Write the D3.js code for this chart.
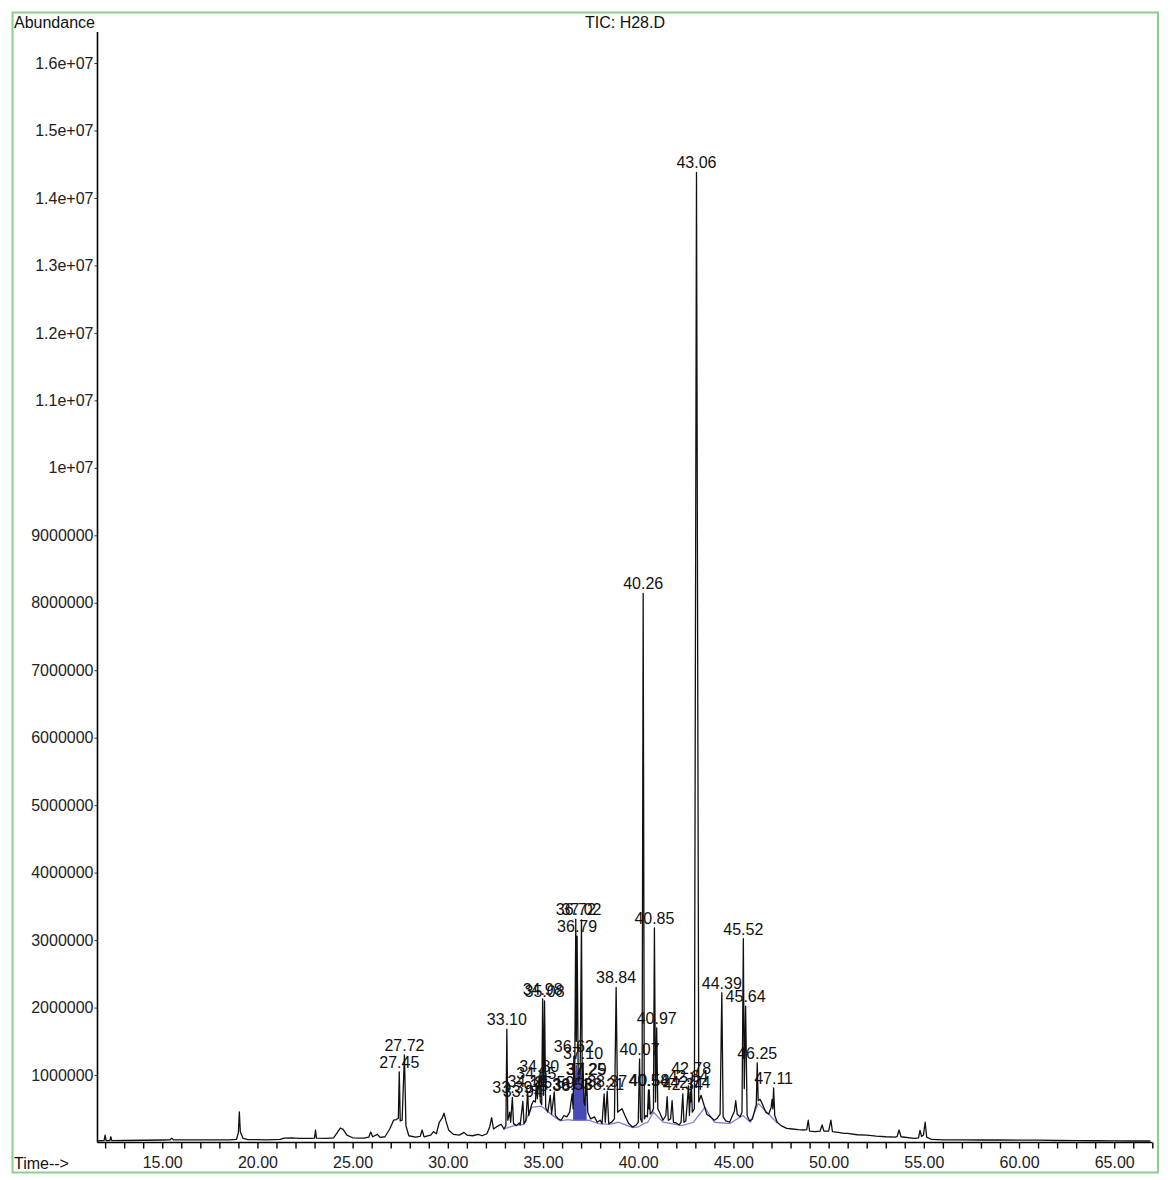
<!DOCTYPE html>
<html>
<head>
<meta charset="utf-8">
<script src="https://cdn.jsdelivr.net/npm/d3@7"></script>
<style>
  html, body { margin: 0; padding: 0; background: #ffffff; }
  svg { display: block; }
  text { font-family: "Liberation Sans", Arial, sans-serif; }
</style>
</head>
<body>
<script>
// ---------- data ----------
const chartTitle = "TIC: H28.D";
const yAxisTitle = "Abundance";
const xAxisTitle = "Time-->";

const yTickValues = [1e6, 2e6, 3e6, 4e6, 5e6, 6e6, 7e6, 8e6, 9e6, 1e7, 1.1e7, 1.2e7, 1.3e7, 1.4e7, 1.5e7, 1.6e7];
const yTickLabels = ["1000000", "2000000", "3000000", "4000000", "5000000", "6000000", "7000000", "8000000", "9000000",
                     "1e+07", "1.1e+07", "1.2e+07", "1.3e+07", "1.4e+07", "1.5e+07", "1.6e+07"];
const xMinorTicks = d3.range(12, 68, 1);
const xTickValues = [15, 20, 25, 30, 35, 40, 45, 50, 55, 60, 65];
const xTickLabels = ["15.00", "20.00", "25.00", "30.00", "35.00", "40.00", "45.00", "50.00", "55.00", "60.00", "65.00"];

// total ion chromatogram: [retention time (min), abundance]
const traceTime = [
  11.6, 11.95, 12.0, 12.05, 12.25, 12.3, 12.35, 13.0, 14.0, 15.0, 15.4, 15.5, 15.6, 16.5, 17.5, 18.5, 18.9,
  19.0, 19.05, 19.1, 19.25, 19.5, 20.5, 21.2, 21.4, 21.8, 22.2, 22.8,
  23.0, 23.05, 23.1, 23.6, 24.0, 24.2, 24.35, 24.5, 24.7, 25.0, 25.6, 25.85, 25.95, 26.05, 26.3, 26.45, 26.7, 26.95, 27.15, 27.3,
  27.4, 27.45, 27.5, 27.6, 27.72, 27.8, 27.95, 28.3, 28.55, 28.65, 28.75, 29.1, 29.25, 29.4, 29.55, 29.7, 29.8, 29.9, 30.05, 30.3,
  30.6, 30.85, 31.0, 31.3, 31.6, 31.8, 32.05, 32.2, 32.3, 32.4, 32.6, 32.8, 32.95, 33.05,
  33.10, 33.15, 33.25, 33.3, 33.39, 33.45, 33.6, 33.75, 33.8, 33.94, 34.0, 34.1, 34.19, 34.25, 34.4, 34.5, 34.6, 34.65, 34.7,
  34.8, 34.86, 34.93, 34.98, 35.03, 35.08, 35.14, 35.25, 35.38, 35.45, 35.59, 35.65, 35.8, 35.95, 36.1, 36.25, 36.4, 36.53,
  36.58, 36.62, 36.66, 36.72, 36.75, 36.79, 36.85, 36.95, 37.02, 37.06, 37.10, 37.15, 37.2, 37.25, 37.27, 37.29, 37.35,
  37.5, 37.7, 37.85, 38.0, 38.1, 38.21, 38.27, 38.37, 38.45, 38.6, 38.75, 38.84, 38.92, 39.05, 39.15, 39.3, 39.5, 39.7, 39.9,
  40.0, 40.07, 40.12, 40.2, 40.26, 40.32, 40.4, 40.48, 40.54, 40.56, 40.58, 40.63, 40.72, 40.8, 40.85, 40.91, 40.97, 41.03,
  41.15, 41.3, 41.45, 41.52, 41.58, 41.7, 41.78, 41.85, 42.0, 42.15, 42.25, 42.34, 42.4, 42.5, 42.64, 42.69, 42.74, 42.76,
  42.78, 42.84, 42.95, 43.06, 43.18, 43.3, 43.45, 43.6, 43.8, 44.0, 44.15, 44.3, 44.39, 44.46, 44.6, 44.8, 44.95, 45.05,
  45.12, 45.2, 45.35, 45.45, 45.52, 45.57, 45.64, 45.72, 45.85, 46.0, 46.12, 46.2, 46.25, 46.3, 46.4, 46.55, 46.7, 46.85,
  46.98, 47.03, 47.07, 47.11, 47.17, 47.3, 47.5, 47.8, 48.1, 48.4, 48.7, 48.85, 48.93, 49.0, 49.3, 49.55, 49.66, 49.75,
  50.0, 50.12, 50.2, 50.5, 50.8, 51.0, 51.5, 52.0, 52.5, 53.0, 53.5, 53.6, 53.7, 53.8, 54.5, 54.72, 54.8, 54.88, 54.98,
  55.07, 55.15, 55.4, 56.0, 57.0, 58.0, 59.0, 60.0, 61.0, 62.0, 63.0, 64.0, 65.0, 66.0, 66.9
];
const traceAbundance = [
  25000, 30000, 110000, 30000, 28000, 85000, 28000, 30000, 33000, 37000, 38000, 65000, 38000, 38000, 38000, 40000, 45000,
  150000, 455000, 160000, 60000, 42000, 40000, 45000, 66000, 70000, 60000, 62000,
  65000, 185000, 65000, 60000, 70000, 150000, 215000, 195000, 110000, 70000, 65000, 80000, 155000, 85000, 120000, 75000, 85000, 200000, 330000, 340000,
  360000, 1045000, 320000, 330000, 1300000, 250000, 100000, 80000, 90000, 185000, 85000, 110000, 160000, 130000, 300000, 360000, 435000, 320000, 180000, 120000,
  110000, 150000, 110000, 100000, 120000, 100000, 130000, 230000, 370000, 200000, 240000, 270000, 200000, 250000,
  1680000, 330000, 450000, 300000, 670000, 280000, 250000, 290000, 260000, 610000, 280000, 320000, 760000, 400000, 560000, 620000, 600000, 880000, 650000,
  990000, 600000, 560000, 2130000, 700000, 2100000, 520000, 450000, 700000, 420000, 750000, 400000, 350000, 330000, 400000, 380000, 450000, 720000,
  500000, 1280000, 800000, 3310000, 1500000, 3060000, 900000, 1000000, 3300000, 800000, 1180000, 600000, 550000, 940000, 700000, 940000, 450000,
  350000, 380000, 300000, 330000, 280000, 720000, 300000, 760000, 280000, 300000, 350000, 2300000, 450000, 480000, 500000, 400000, 280000, 230000, 260000,
  300000, 1240000, 350000, 300000, 8140000, 350000, 400000, 380000, 780000, 500000, 780000, 420000, 450000, 500000, 3180000, 600000, 1700000, 500000,
  430000, 330000, 400000, 680000, 330000, 350000, 620000, 300000, 290000, 260000, 300000, 720000, 300000, 320000, 840000, 400000, 750000, 600000,
  960000, 450000, 500000, 14380000, 600000, 700000, 560000, 420000, 380000, 330000, 360000, 420000, 2220000, 380000, 320000, 300000, 400000, 460000,
  620000, 420000, 380000, 450000, 3020000, 800000, 2020000, 400000, 320000, 350000, 480000, 560000, 1180000, 620000, 640000, 550000, 450000, 420000,
  520000, 640000, 500000, 810000, 400000, 300000, 250000, 210000, 200000, 190000, 185000, 190000, 330000, 170000, 160000, 170000, 260000, 170000,
  170000, 330000, 160000, 150000, 135000, 135000, 115000, 110000, 95000, 85000, 80000, 90000, 185000, 85000, 60000, 70000, 180000, 90000, 110000,
  300000, 80000, 45000, 40000, 38000, 37000, 37000, 36000, 34000, 30000, 28000, 26000, 24000, 22000, 22000
];

// integration baseline (blue)
const baseTime = [32.9, 33.5, 34.0, 34.4, 34.9, 35.6, 35.9, 36.3, 36.55, 37.4, 37.9, 38.5, 38.95, 39.7, 40.0, 40.3, 40.5, 40.8,
                  41.3, 42.3, 42.9, 43.5, 44.0, 44.8, 45.5, 45.9, 46.3, 47.3];
const baseAbundance = [200000, 250000, 270000, 520000, 540000, 380000, 320000, 340000, 330000, 330000, 280000, 270000, 300000,
                       220000, 230000, 280000, 300000, 450000, 300000, 250000, 300000, 520000, 300000, 280000, 400000, 300000, 580000, 290000];
// shaded integrated region (dark blue) around the 36.6–37.3 cluster
const shadeStart = 36.56, shadeEnd = 37.34, shadeCap = 1150000;

// peak labels: retention time, apex abundance
const peakLabels = ["27.45", "27.72", "33.10", "33.39", "33.94", "34.19", "34.65", "34.80", "34.98", "35.08", "35.38", "35.59",
                    "36.53", "36.62", "36.72", "37.02", "36.79", "37.10", "37.25", "37.29", "38.21", "38.37", "38.84",
                    "40.07", "40.26", "40.54", "40.58", "40.85", "40.97", "42.34", "42.64", "42.74", "42.78", "43.06",
                    "44.39", "45.52", "45.64", "46.25", "47.11"];
const peakTime = [27.45, 27.72, 33.10, 33.39, 33.94, 34.19, 34.65, 34.80, 34.98, 35.08, 35.38, 35.59,
                  36.53, 36.62, 36.72, 37.02, 36.79, 37.10, 37.25, 37.29, 38.21, 38.37, 38.84,
                  40.07, 40.26, 40.54, 40.58, 40.85, 40.97, 42.34, 42.64, 42.74, 42.78, 43.06,
                  44.39, 45.52, 45.64, 46.25, 47.11];
const peakApex = [1045000, 1300000, 1680000, 670000, 610000, 760000, 880000, 990000, 2130000, 2100000, 700000, 750000,
                  720000, 1280000, 3310000, 3310000, 3060000, 1180000, 940000, 940000, 720000, 760000, 2300000,
                  1240000, 8140000, 780000, 780000, 3180000, 1700000, 720000, 840000, 750000, 960000, 14380000,
                  2220000, 3020000, 2020000, 1180000, 810000];

// ---------- drawing ----------
const W = 1170, H = 1180;
const svg = d3.select("body").append("svg").attr("width", W).attr("height", H);

svg.append("rect").attr("x", 0).attr("y", 0).attr("width", W).attr("height", H).attr("fill", "#ffffff");
svg.append("rect").attr("x", 12.5).attr("y", 12.5).attr("width", 1145.5).attr("height", 1160)
   .attr("fill", "none").attr("stroke", "#8ccf8c").attr("stroke-width", 2);

const x = d3.scaleLinear().domain([11.6, 67]).range([97.5, 1152.3]);
const y = d3.scaleLinear().domain([0, 16.46e6]).range([1142.5, 32]);

const fontSize = 16;

// titles
svg.append("text").attr("x", 14).attr("y", 28).attr("font-size", fontSize).attr("fill", "#111").text(yAxisTitle);
svg.append("text").attr("x", 625).attr("y", 28).attr("font-size", fontSize).attr("fill", "#111")
   .attr("text-anchor", "middle").text(chartTitle);
svg.append("text").attr("x", 14).attr("y", 1169).attr("font-size", fontSize).attr("fill", "#111").text(xAxisTitle);

// y axis
const yAxis = d3.axisLeft(y).tickValues(yTickValues).tickSize(3).tickPadding(1)
  .tickFormat((d, i) => yTickLabels[i]);
const gy = svg.append("g").attr("transform", `translate(${x(11.6)},0)`).call(yAxis);
gy.select(".domain").remove();
gy.selectAll("text").attr("font-size", fontSize).attr("font-family", '"Liberation Sans", Arial, sans-serif').attr("fill", "#222");
gy.selectAll("line").attr("stroke", "#333");
svg.append("line").attr("x1", x(11.6)).attr("x2", x(11.6)).attr("y1", 32).attr("y2", y(0))
   .attr("stroke", "#000").attr("stroke-width", 1.6);

// x axis
const xAxisMinor = d3.axisBottom(x).tickValues(xMinorTicks).tickSize(6).tickFormat("");
const gxm = svg.append("g").attr("transform", `translate(0,${y(0)})`).call(xAxisMinor);
gxm.select(".domain").remove();
gxm.selectAll("line").attr("stroke", "#000").attr("stroke-width", 1.4);
const xAxis = d3.axisBottom(x).tickValues(xTickValues).tickSize(0).tickPadding(14)
  .tickFormat((d, i) => xTickLabels[i]);
const gx = svg.append("g").attr("transform", `translate(0,${y(0)})`).call(xAxis);
gx.select(".domain").remove();
gx.selectAll("text").attr("font-size", fontSize).attr("font-family", '"Liberation Sans", Arial, sans-serif').attr("fill", "#222");
svg.append("line").attr("x1", x(11.6)).attr("x2", x(67)).attr("y1", y(0)).attr("y2", y(0))
   .attr("stroke", "#000").attr("stroke-width", 1.6);

// data
const trace = traceTime.map((t, i) => [t, traceAbundance[i]]);
const base = baseTime.map((t, i) => [t, baseAbundance[i]]);
const baseAt = d3.scaleLinear().domain(baseTime).range(baseAbundance);

// shaded cluster
const shadePts = trace.filter(d => d[0] >= shadeStart && d[0] <= shadeEnd);
svg.append("path")
  .datum(shadePts)
  .attr("d", d3.area().x(d => x(d[0])).y0(d => y(baseAt(d[0]))).y1(d => y(Math.min(d[1], shadeCap))))
  .attr("fill", "#2a2aa8").attr("opacity", 0.85);

// blue baseline
svg.append("path")
  .datum(base)
  .attr("d", d3.line().x(d => x(d[0])).y(d => y(d[1])))
  .attr("fill", "none").attr("stroke", "#6b6bd6").attr("stroke-width", 1.3).attr("opacity", 0.85);

// trace
svg.append("path")
  .datum(trace)
  .attr("d", d3.line().x(d => x(d[0])).y(d => y(d[1])))
  .attr("fill", "none").attr("stroke", "#111").attr("stroke-width", 1.3).attr("stroke-linejoin", "round");

// peak labels
svg.append("g").selectAll("text")
  .data(peakLabels.map((s, i) => ({ s, t: peakTime[i], a: peakApex[i] })))
  .join("text")
  .attr("x", d => x(d.t))
  .attr("y", d => y(d.a) - 4)
  .attr("text-anchor", "middle")
  .attr("font-size", fontSize)
  .attr("fill", "#111")
  .text(d => d.s);
</script>
</body>
</html>
